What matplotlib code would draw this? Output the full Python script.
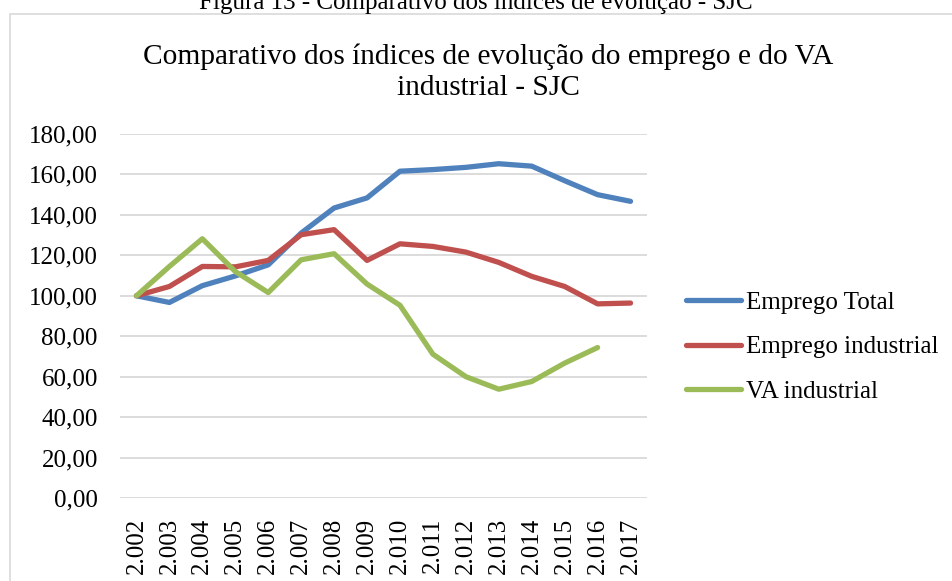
import numpy as np
from matplotlib import pyplot as plt
from matplotlib.patches import Rectangle

plt.rcParams['font.family'] = ['Liberation Serif', 'DejaVu Serif']

anos = ['2.002', '2.003', '2.004', '2.005', '2.006', '2.007', '2.008', '2.009',
        '2.010', '2.011', '2.012', '2.013', '2.014', '2.015', '2.016', '2.017']

emprego_total = [100.0, 96.7, 105.0, 109.8, 115.3, 131.0, 143.4, 148.4,
                 161.6, 162.4, 163.5, 165.3, 164.1, 156.9, 150.0, 146.7]
emprego_industrial = [100.0, 104.6, 114.5, 114.3, 117.5, 130.2, 132.7, 117.5,
                      125.7, 124.4, 121.6, 116.5, 109.6, 104.6, 96.0, 96.4]
va_industrial = [100.0, 114.5, 128.2, 112.0, 101.6, 117.8, 120.8, 105.8,
                 95.3, 71.1, 60.0, 53.8, 57.6, 66.7, 74.4, np.nan]

series = [('Emprego Total', emprego_total, '#4F81BD'),
          ('Emprego industrial', emprego_industrial, '#C0504D'),
          ('VA industrial', va_industrial, '#9BBB59')]

W, H = 952, 581
fig = plt.figure(figsize=(W / 100, H / 100), dpi=100)

# moldura do grafico (cortada a direita e embaixo)
fig.patches.append(Rectangle((9.5 / W, -0.1), 1.2, 1.1 - 13.5 / H, transform=fig.transFigure,
                             fill=False, edgecolor='#D9D9D9', linewidth=1.2))

# legenda da figura, cortada no topo
fig.text(0.5, 1 - 9 / H, 'Figura 13 - Comparativo dos índices de evolução - SJC',
         ha='center', va='baseline', fontsize=18)

fig.text(488 / W, 1 - 72 / H,
         'Comparativo dos índices de evolução do emprego e do VA\nindustrial - SJC',
         ha='center', va='center', fontsize=21.2, linespacing=1.25)

ax = fig.add_axes([120 / W, 1 - 498 / H, 527 / W, 364 / H])
x = np.arange(len(anos))
handles = []
for nome, valores, cor in series:
    ln, = ax.plot(x, valores, color=cor, linewidth=3.8, label=nome,
                  solid_capstyle='round', solid_joinstyle='round')
    handles.append(ln)

ax.set_xlim(-0.5, len(anos) - 0.5)
ax.set_ylim(0, 180)
ax.set_yticks(np.arange(0, 181, 20))
ax.set_yticklabels(['%d,00' % v for v in np.arange(0, 181, 20)], fontsize=18)
ax.set_xticks(x)
ax.set_xticklabels(anos, rotation=90, fontsize=18)
ax.tick_params(axis='both', length=0)
ax.tick_params(axis='y', pad=16)
ax.tick_params(axis='x', pad=14)
ax.yaxis.grid(True, color='#D9D9D9', linewidth=1.3)
ax.set_axisbelow(True)
for s in ax.spines.values():
    s.set_visible(False)

fig.legend(handles=handles, loc='center left', bbox_to_anchor=(686 / W, 1 - 347 / H),
           frameon=False, fontsize=18, handlelength=2.2, handletextpad=0.2,
           labelspacing=0.88, borderaxespad=0, borderpad=0)

plt.savefig('out.png', dpi=100)
